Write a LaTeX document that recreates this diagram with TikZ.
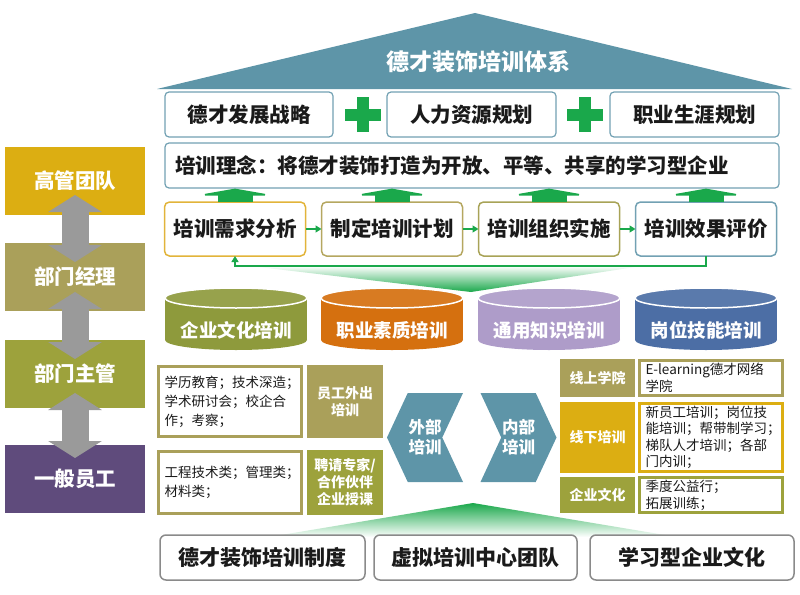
\documentclass[tikz,border=0pt]{standalone}
\usepackage{fontspec}
\setmainfont{Noto Sans CJK SC}
\usepackage{tikz}
\usetikzlibrary{shapes.misc, shapes.symbols, arrows.meta, positioning, calc}
\newcommand{\txtsize}[2]{\fontsize{#1pt}{#2pt}\selectfont}
\newcommand{\drum}[3]{%
	\fill[#2] ({#1-71},298) rectangle ({#1+71},340);
	\fill[#2] (#1,340) ellipse [x radius=71pt, y radius=10pt];
	\draw[white, line width=1.5pt, fill=#3] (#1,298) ellipse [x radius=71pt, y radius=10pt];}
\definecolor{roof}{HTML}{5E95A8}
\definecolor{frameblue}{HTML}{72A1B3}
\definecolor{ink}{HTML}{1A1A1A}
\definecolor{leafgreen}{HTML}{1AA84B}
\definecolor{gold}{HTML}{DCAE12}
\definecolor{khaki}{HTML}{AAA05A}
\definecolor{olive}{HTML}{9DA23C}
\definecolor{stepgold}{HTML}{E2B43A}
\definecolor{stepkhaki}{HTML}{B5A760}
\definecolor{stepolive}{HTML}{A8A357}
\definecolor{violet}{HTML}{5F4B7C}
\definecolor{linkgray}{HTML}{9A9A9A}
\definecolor{basegray}{HTML}{8A8A8A}
\definecolor{drumolive}{HTML}{8E9A3C}
\definecolor{drumorange}{HTML}{D5700F}
\definecolor{drumlilac}{HTML}{AE9CC9}
\definecolor{drumblue}{HTML}{4C6EA5}
\tikzstyle{roofname} = [text=white, font=\bfseries\txtsize{23}{23}]
\tikzstyle{toppart} = [draw=frameblue, line width=1.2pt, fill=white, rounded corners=4pt, minimum height=45pt, inner sep=0pt, text=ink, font=\bfseries\txtsize{20.5}{24}]
\tikzstyle{plussign} = [cross out, draw=leafgreen, line width=12pt, minimum size=25pt, inner sep=0pt, outer sep=0pt, rotate=45]
\tikzstyle{stepbox} = [line width=1.5pt, fill=white, rounded corners=5pt, minimum width=141pt, minimum height=54pt, inner sep=0pt, outer sep=0pt, text=ink, font=\bfseries\txtsize{20.5}{24}]
\tikzstyle{uparrow} = [leafgreen, line width=35pt, -{Triangle[length=7pt, width=80pt]}]
\tikzstyle{stepline} = [leafgreen, line width=1.3pt, -{Triangle[length=6pt, width=7pt]}]
\tikzstyle{drumname} = [text=white, font=\bfseries\txtsize{18.5}{20}]
\tikzstyle{level} = [minimum width=140pt, minimum height=68pt, inner sep=0pt, outer sep=0pt, text=white, font=\bfseries\txtsize{20.5}{24}]
\tikzstyle{link} = [draw=linkgray, line width=27pt, {Triangle[length=17pt, width=53pt]}-{Triangle[length=17pt, width=53pt]}]
\tikzstyle{infobox} = [line width=3pt, fill=white, minimum width=143pt, inner xsep=6pt, inner ysep=2pt, text width=131pt, align=left, text=ink]
\tikzstyle{tag} = [minimum width=76pt, inner sep=2pt, outer sep=0pt, align=center, text=white, font=\bfseries\txtsize{14}{17}]
\tikzstyle{chevron} = [signal, signal pointer angle=130, fill=roof, minimum width=76pt, minimum height=89pt, inner sep=0pt, align=center, text=white, font=\bfseries\txtsize{16.5}{20}]
\tikzstyle{basebox} = [draw=basegray, line width=1.5pt, fill=white, rounded corners=6pt, minimum height=45pt, inner sep=0pt, outer sep=0pt, text=ink, font=\bfseries\txtsize{21}{24}]
\begin{document}
\begin{tikzpicture}[x=1pt, y=-1pt]
	\useasboundingbox (0,0) rectangle (800,594);
	\fill[roof] (157,89) -- (475,13) -- (792,89) -- cycle;
	\node[roofname] (title) at (478,62) {德才装饰培训体系};
	\node[toppart, minimum width=168pt] (strategy) at (249,114.5) {德才发展战略};
	\node[toppart, minimum width=169pt] (hrplan) at (471.5,114.5) {人力资源规划};
	\node[toppart, minimum width=169pt] (career) at (694.5,114.5) {职业生涯规划};
	\node[plussign] (plusa) at (363,114.5) {};
	\node[plussign] (plusb) at (585,114.5) {};
	\node[toppart, minimum width=614pt, text width=594pt, align=left] (idea) at (472,165.5) {培训理念：将德才装饰打造为开放、平等、共享的学习型企业};

	\shade[top color=white, bottom color=leafgreen] (250,266) -- (642,266) -- (471,292) -- cycle;
	\node[stepbox, draw=stepgold] (needs) at (235,229) {培训需求分析};
	\node[stepbox, draw=stepkhaki, right=16pt of needs] (plan) {制定培训计划};
	\node[stepbox, draw=stepolive, right=16pt of plan] (run) {培训组织实施};
	\node[stepbox, draw=frameblue, right=16pt of run] (review) {培训效果评价};
	\draw[uparrow] (needs.north) -- (needs.north |- idea.south);
	\draw[uparrow] (plan.north) -- (plan.north |- idea.south);
	\draw[uparrow] (run.north) -- (run.north |- idea.south);
	\draw[uparrow] (review.north) -- (review.north |- idea.south);
	\draw[stepline] (needs) -- (plan);
	\draw[stepline] (plan) -- (run);
	\draw[stepline] (run) -- (review);
	\draw[stepline] (review.south) -- ++(0,10) -| (needs.south);

	\drum{236}{drumolive}{drumolive!92!white}
	\drum{392}{drumorange}{drumorange!92!white}
	\drum{549}{drumlilac}{drumlilac!92!white}
	\drum{706}{drumblue}{drumblue!92!white}
	\node[drumname] (culture) at (236,330) {企业文化培训};
	\node[drumname] (quality) at (392,330) {职业素质培训};
	\node[drumname] (general) at (549,330) {通用知识培训};
	\node[drumname] (skill) at (706,330) {岗位技能培训};

	\node[level, fill=gold] (senior) at (75,181) {高管团队};
	\node[level, fill=khaki, below=28pt of senior] (manager) {部门经理};
	\node[level, fill=olive, below=29pt of manager] (leader) {部门主管};
	\node[level, fill=violet, below=37pt of leader] (staff) {一般员工};
	\draw[link] ($(senior.south)+(0,-20)$) -- ($(manager.north)+(0,19)$);
	\draw[link] ($(manager.south)+(0,-19)$) -- ($(leader.north)+(0,19)$);
	\draw[link] ($(leader.south)+(0,-15)$) -- ($(staff.north)+(0,13)$);

	\node[infobox, draw=khaki, minimum height=70pt, font=\txtsize{13.5}{19}] (studyout) at (230,401.5) {学历教育；技术深造；\\学术研讨会；校企合\\作；考察；};
	\node[tag, fill=khaki, minimum height=73pt, right=4pt of studyout] (outtag) {员工外出\\培训};
	\node[infobox, draw=khaki, minimum height=62pt, font=\txtsize{13.5}{19}, below=12pt of studyout] (studyin) {工程技术类；管理类；\\材料类；};
	\node[tag, fill=olive, minimum height=65pt, right=4pt of studyin] (experttag) {聘请专家/\\合作伙伴\\企业授课};

	\node[chevron, signal to=west, signal from=east] (outside) at (425,437.5) {外部\\培训};
	\node[chevron, signal to=east, signal from=west] (inside) at (518.5,437.5) {内部\\培训};

	\node[tag, fill=khaki, minimum width=75pt, minimum height=38pt] (online) at (597.5,378) {线上学院};
	\node[tag, fill=gold, minimum width=75pt, minimum height=71pt, below=5pt of online] (offline) {线下培训};
	\node[tag, fill=olive, minimum width=75pt, minimum height=36pt, below=4pt of offline] (corp) {企业文化};
	\node[infobox, draw=khaki, minimum height=35pt, font=\txtsize{13.5}{17}, right=3pt of online] (onlinetext) {E-learning德才网络\\学院};
	\node[infobox, draw=gold, minimum height=68pt, font=\txtsize{13.5}{16.5}, right=3pt of offline] (offlinetext) {新员工培训；岗位技\\能培训；帮带制学习；\\梯队人才培训；各部\\门内训；};
	\node[infobox, draw=olive, minimum height=33pt, font=\txtsize{13.5}{17}, right=3pt of corp] (corptext) {季度公益行；\\拓展训练；};

	\shade[top color=leafgreen, bottom color=white] (473,503) -- (677,537) -- (269,537) -- cycle;
	\node[basebox, minimum width=205pt] (system) at (262.5,557.5) {德才装饰培训制度};
	\node[basebox, minimum width=203pt, right=9pt of system] (virtual) {虚拟培训中心团队};
	\node[basebox, minimum width=204pt, right=13pt of virtual] (learning) {学习型企业文化};
\end{tikzpicture}
\end{document}
